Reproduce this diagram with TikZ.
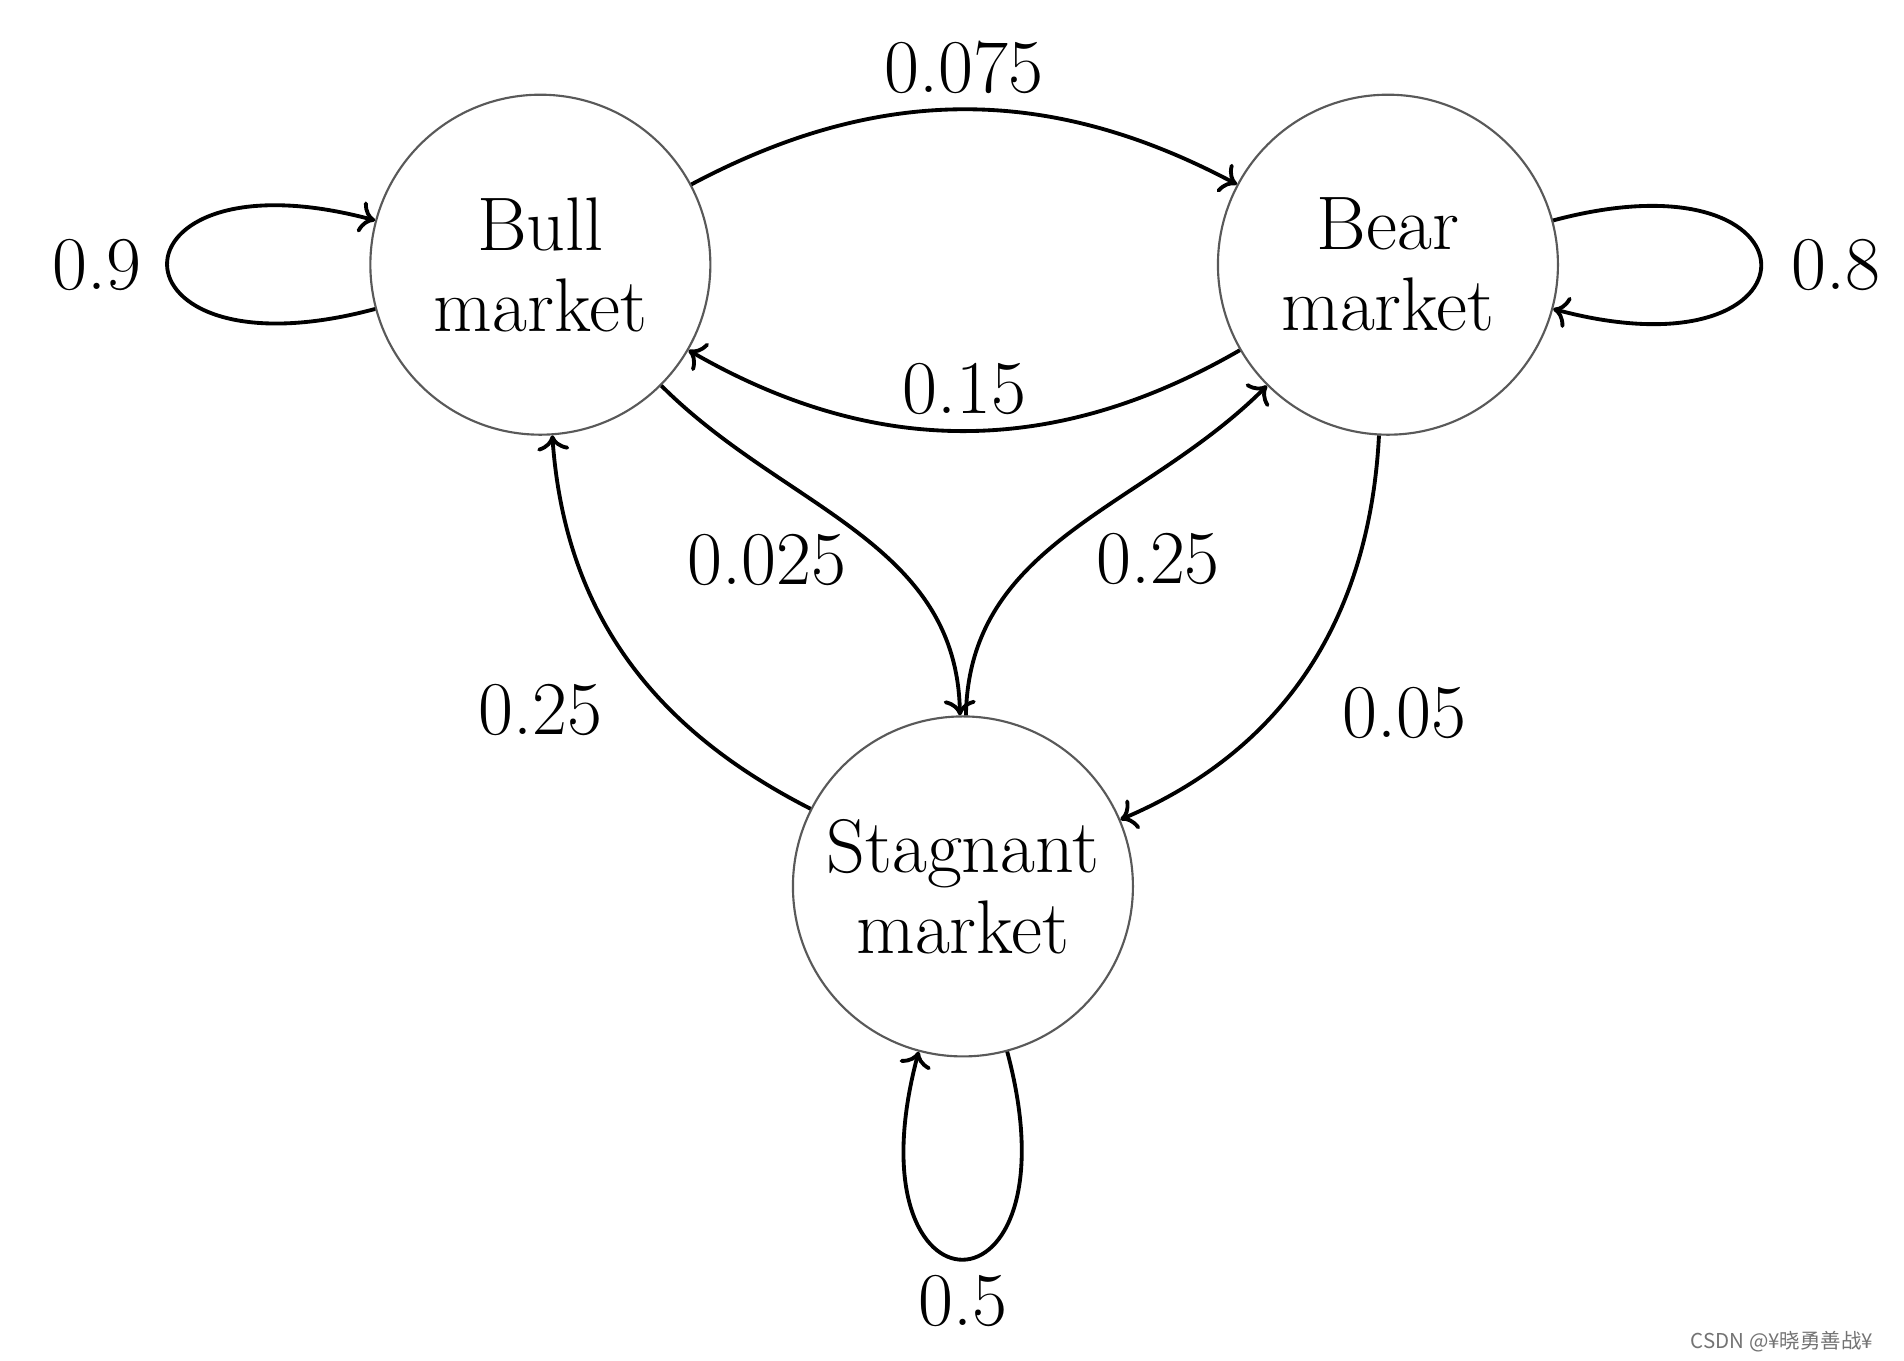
\documentclass[tikz,border=0pt]{standalone}
\usepackage{fontspec}
\newfontfamily\cjkfont{Noto Sans CJK SC}
\usetikzlibrary{arrows.meta, positioning}

\begin{document}
\begin{tikzpicture}[
  state/.style={circle, draw=black!65, line width=0.5pt, minimum size=2.8cm,
    inner sep=0pt, align=center, font=\fontsize{17.8}{19}\selectfont},
  edge/.style={->, line width=0.9pt},
  lbl/.style={font=\fontsize{17.8}{19}\selectfont},
  wm/.style={font=\cjkfont\fontsize{4.8}{6}\selectfont, text=black!55},
  every loop/.style={looseness=8.3}
]
  \useasboundingbox (0,0) rectangle (15.68,11.2);
  % States
  \node[state] (bull) at (4.45,9.02) {Bull\\market};
  \node[state] (bear) at (11.43,9.02) {Bear\\market};
  \node[state] (stag) at (7.93,3.90) {Stagnant\\market};
  % Self loops
  \draw[edge] (bull) to[loop left] node[lbl, left=0.08cm] (p9) {0.9} ();
  \draw[edge] (bear) to[loop right] node[lbl, right=0.12cm] (p8) {0.8} ();
  \draw[edge] (stag) to[loop below] node[lbl, below] (p5) {0.5} ();
  % Bull <-> Bear
  \draw[edge] (bull) to[bend left=28] node[lbl, above] (p075) {0.075} (bear);
  \draw[edge] (bear) to[bend left=30] node[lbl, above] (p15) {0.15} (bull);
  % Transitions through the stagnant state
  \draw[edge] (bull) to[out=-45, in=91] node[lbl, pos=0.6, left=0.22cm] (p025) {0.025} (stag);
  \draw[edge] (stag) to[out=89, in=225] node[lbl, pos=0.4, right=0.35cm] (p25a) {0.25} (bear);
  \draw[edge] (stag) to[out=153, in=-86] node[lbl, pos=0.35, left=0.43cm] (p25b) {0.25} (bull);
  \draw[edge] (bear) to[out=-93, in=23] node[lbl, pos=0.62, right=0.43cm] (p05) {0.05} (stag);
  % Watermark
  \node[wm, anchor=east] (wmark) at (15.55,0.15) {CSDN @¥晓勇善战¥};
\end{tikzpicture}
\end{document}
